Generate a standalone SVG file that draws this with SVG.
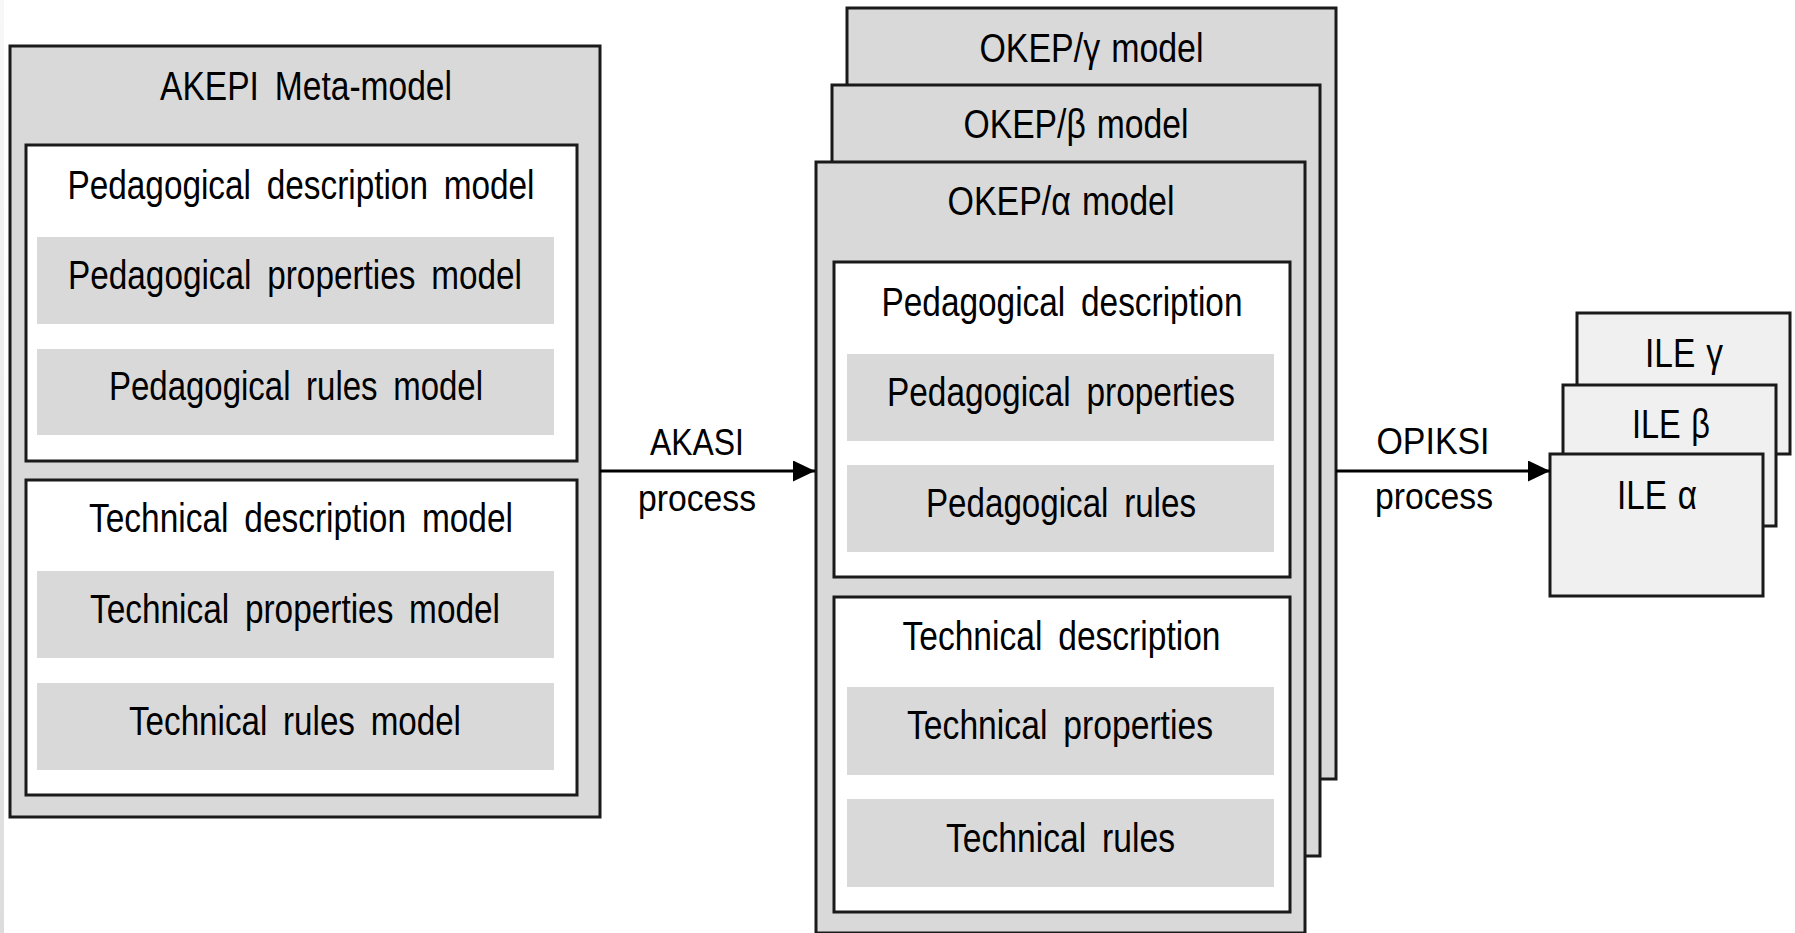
<svg xmlns="http://www.w3.org/2000/svg" width="1795" height="933" viewBox="0 0 1795 933">
<style>
.box{fill:#d9d9d9;stroke:#1a1a1a;stroke-width:3}
.wbox{fill:#ffffff;stroke:#1a1a1a;stroke-width:3}
.gbox{fill:#d9d9d9;stroke:none}
.ile{fill:#f0f0f0;stroke:#1a1a1a;stroke-width:3}
text{font-family:"Liberation Sans",Arial,sans-serif;font-size:41px;fill:#000;text-anchor:middle;word-spacing:8px}
.lbl{font-size:36px;word-spacing:0}
.ns{word-spacing:2px}
.conn{stroke:#000;stroke-width:3;fill:none}
</style>
<defs>
<linearGradient id="strip" x1="0" y1="0" x2="0" y2="1">
<stop offset="0" stop-color="#f8f8f8"/>
<stop offset="1" stop-color="#dcdcdc"/>
</linearGradient>
<marker id="arr" markerUnits="userSpaceOnUse" markerWidth="23" markerHeight="22" refX="22" refY="10.5" orient="auto">
<path d="M0,0 L22,10.5 L0,21 Z" fill="#000"/>
</marker>
</defs>
<rect x="0" y="0" width="1795" height="933" fill="#ffffff"/>
<rect x="0" y="0" width="4" height="933" fill="url(#strip)"/>

<g id="akepi">
<rect class="box" x="10" y="46" width="590" height="771"/>
<text x="306" y="100" textLength="292" lengthAdjust="spacingAndGlyphs">AKEPI Meta-model</text>
</g>
<g id="ped-desc-model">
<rect class="wbox" x="26" y="145" width="551" height="316"/>
<text x="301" y="199" textLength="467" lengthAdjust="spacingAndGlyphs">Pedagogical description model</text>
</g>
<g id="ped-props-model">
<rect class="gbox" x="37" y="237" width="517" height="87"/>
<text x="295" y="289" textLength="454" lengthAdjust="spacingAndGlyphs">Pedagogical properties model</text>
</g>
<g id="ped-rules-model">
<rect class="gbox" x="37" y="349" width="517" height="86"/>
<text x="296" y="400" textLength="374" lengthAdjust="spacingAndGlyphs">Pedagogical rules model</text>
</g>
<g id="tech-desc-model">
<rect class="wbox" x="26" y="480" width="551" height="315"/>
<text x="301" y="532" textLength="424" lengthAdjust="spacingAndGlyphs">Technical description model</text>
</g>
<g id="tech-props-model">
<rect class="gbox" x="37" y="571" width="517" height="87"/>
<text x="295" y="623" textLength="410" lengthAdjust="spacingAndGlyphs">Technical properties model</text>
</g>
<g id="tech-rules-model">
<rect class="gbox" x="37" y="683" width="517" height="87"/>
<text x="295" y="735" textLength="332" lengthAdjust="spacingAndGlyphs">Technical rules model</text>
</g>

<g id="okep-gamma">
<rect class="box" x="847" y="8" width="489" height="771"/>
<text class="ns" x="1091.5" y="62" textLength="224" lengthAdjust="spacingAndGlyphs">OKEP/γ model</text>
</g>
<g id="okep-beta">
<rect class="box" x="832" y="85" width="488" height="771"/>
<text class="ns" x="1076" y="138" textLength="225" lengthAdjust="spacingAndGlyphs">OKEP/β model</text>
</g>
<g id="okep-alpha">
<rect class="box" x="816" y="162" width="489" height="771"/>
<text class="ns" x="1061" y="215" textLength="227" lengthAdjust="spacingAndGlyphs">OKEP/α model</text>
</g>
<g id="ped-desc">
<rect class="wbox" x="834" y="262" width="456" height="315"/>
<text x="1062" y="316" textLength="361" lengthAdjust="spacingAndGlyphs">Pedagogical description</text>
</g>
<g id="ped-props">
<rect class="gbox" x="847" y="354" width="427" height="87"/>
<text x="1061" y="406" textLength="348" lengthAdjust="spacingAndGlyphs">Pedagogical properties</text>
</g>
<g id="ped-rules">
<rect class="gbox" x="847" y="465" width="427" height="87"/>
<text x="1061" y="517" textLength="270" lengthAdjust="spacingAndGlyphs">Pedagogical rules</text>
</g>
<g id="tech-desc">
<rect class="wbox" x="834" y="597" width="456" height="315"/>
<text x="1061.5" y="650" textLength="318" lengthAdjust="spacingAndGlyphs">Technical description</text>
</g>
<g id="tech-props">
<rect class="gbox" x="847" y="687" width="427" height="88"/>
<text x="1060" y="739" textLength="306" lengthAdjust="spacingAndGlyphs">Technical properties</text>
</g>
<g id="tech-rules">
<rect class="gbox" x="847" y="799" width="427" height="88"/>
<text x="1060.5" y="852" textLength="229" lengthAdjust="spacingAndGlyphs">Technical rules</text>
</g>

<g id="ile-gamma">
<rect class="ile" x="1577" y="313" width="213" height="141"/>
<text class="ns" x="1684" y="367" textLength="78" lengthAdjust="spacingAndGlyphs">ILE γ</text>
</g>
<g id="ile-beta">
<rect class="ile" x="1563" y="385" width="213" height="141"/>
<text class="ns" x="1671" y="438" textLength="78" lengthAdjust="spacingAndGlyphs">ILE β</text>
</g>
<g id="ile-alpha">
<rect class="ile" x="1550" y="454" width="213" height="142"/>
<text class="ns" x="1657" y="509" textLength="80" lengthAdjust="spacingAndGlyphs">ILE α</text>
</g>

<g id="connectors">
<line class="conn" x1="600" y1="471" x2="815" y2="471" marker-end="url(#arr)"/>
<text class="lbl" x="697" y="455" textLength="94" lengthAdjust="spacingAndGlyphs">AKASI</text>
<text class="lbl" x="697" y="511" textLength="118" lengthAdjust="spacingAndGlyphs">process</text>
<line class="conn" x1="1336" y1="471" x2="1550" y2="471" marker-end="url(#arr)"/>
<text class="lbl" x="1433" y="454" textLength="113" lengthAdjust="spacingAndGlyphs">OPIKSI</text>
<text class="lbl" x="1434" y="509" textLength="118" lengthAdjust="spacingAndGlyphs">process</text>
</g>
</svg>
